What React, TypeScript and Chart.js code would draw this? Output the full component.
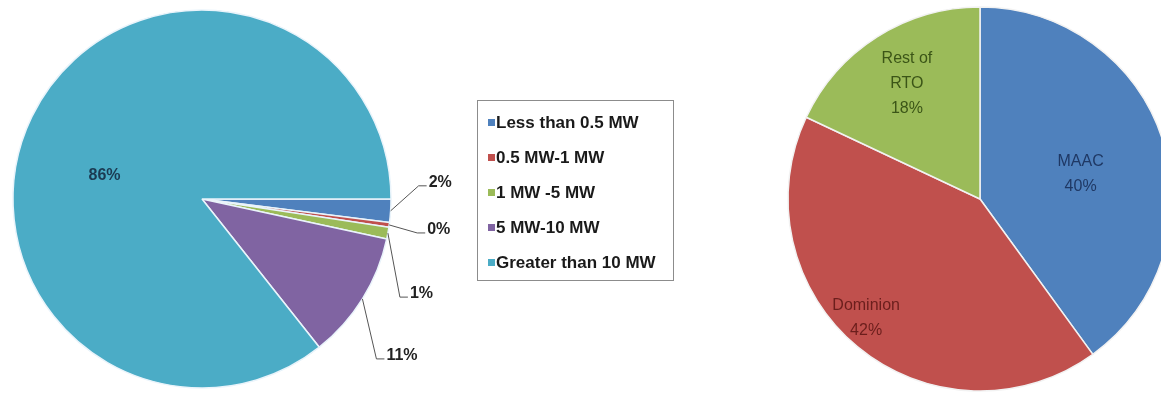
import React, { useEffect, useRef } from 'react';
import { Chart, registerables } from 'chart.js';

Chart.register(...registerables);

// ---- Data: left pie (by unit size) ----
const sizeCategories = ['Less than 0.5 MW', '0.5 MW-1 MW', '1 MW -5 MW', '5 MW-10 MW', 'Greater than 10 MW'];
const sizeShares = [2, 0.4, 1, 11, 86];
const sizeColors = ['#4f81bd', '#c0504d', '#9bbb59', '#8064a2', '#4bacc6'];

// ---- Data: right pie (by zone) ----
const zoneCategories = ['MAAC', 'Dominion', 'Rest of RTO'];
const zoneShares = [40, 42, 18];
const zoneColors = ['#4f81bd', '#c0504d', '#9bbb59'];
const zoneTextColors = ['#1f3864', '#6b1e1c', '#3b5517'];
const zoneNameLines = [['MAAC'], ['Dominion'], ['Rest of', 'RTO']];

// ---- Label layout (style only) ----
// inside labels: radius fraction and angle shift (deg); outside labels: elbow offset from arc edge
const sizeLabelLayout = [
  { inside: false, ex: 28, ey: -25 },
  { inside: false, ex: 28, ey: 8 },
  { inside: false, ex: 12, ey: 64 },
  { inside: false, ex: 14, ey: 60 },
  { inside: true, rf: 0.53, da: -12.5 },
];
const zoneLabelLayout = [
  { rf: 0.54, da: 4 },
  { rf: 0.86, da: 4 },
  { rf: 0.71, da: 0 },
];

const FONT = "'Liberation Sans', Arial, sans-serif";

const pct = (arr: number[], i: number) => {
  const total = arr.reduce((a, b) => a + b, 0);
  return Math.round((arr[i] / total) * 100) + '%';
};

const leftPlugin = {
  id: 'leftLabels',
  afterDraw(chart: any) {
    const ctx = chart.ctx as CanvasRenderingContext2D;
    const meta = chart.getDatasetMeta(0);
    ctx.save();
    meta.data.forEach((arc: any, i: number) => {
      const { x, y, startAngle, endAngle, outerRadius } = arc.getProps(['x', 'y', 'startAngle', 'endAngle', 'outerRadius'], true);
      const mid = (startAngle + endAngle) / 2;
      const lay: any = sizeLabelLayout[i];
      const text = pct(sizeShares, i);
      if (lay.inside) {
        const a = mid + (lay.da * Math.PI) / 180;
        const r = outerRadius * lay.rf;
        ctx.font = `bold 16px ${FONT}`;
        ctx.fillStyle = '#1b3a52';
        ctx.textAlign = 'center';
        ctx.textBaseline = 'middle';
        ctx.fillText(text, x + r * Math.cos(a), y + r * Math.sin(a));
      } else {
        const sx = x + outerRadius * Math.cos(mid);
        const sy = y + outerRadius * Math.sin(mid);
        const exx = sx + lay.ex;
        const eyy = sy + lay.ey;
        ctx.strokeStyle = '#555555';
        ctx.lineWidth = 1;
        ctx.beginPath();
        ctx.moveTo(sx, sy);
        ctx.lineTo(exx, eyy);
        ctx.lineTo(exx + 8, eyy);
        ctx.stroke();
        ctx.font = `bold 16px ${FONT}`;
        ctx.fillStyle = '#222222';
        ctx.textAlign = 'left';
        ctx.textBaseline = 'alphabetic';
        ctx.fillText(text, exx + 10, eyy + 1);
      }
    });

    // Legend box
    const bx = 477, by = 100, bw = 196, bh = 180;
    ctx.strokeStyle = '#8c8c8c';
    ctx.lineWidth = 1;
    ctx.strokeRect(bx + 0.5, by + 0.5, bw, bh);
    ctx.font = `bold 17px ${FONT}`;
    ctx.textAlign = 'left';
    ctx.textBaseline = 'middle';
    sizeCategories.forEach((name, i) => {
      const cy = by + 22 + i * 35;
      ctx.fillStyle = sizeColors[i];
      ctx.fillRect(bx + 11, cy - 3, 7, 7);
      ctx.fillStyle = '#1a1a1a';
      ctx.fillText(name, bx + 19, cy + 1);
    });
    ctx.restore();
  },
};

const rightPlugin = {
  id: 'rightLabels',
  afterDraw(chart: any) {
    const ctx = chart.ctx as CanvasRenderingContext2D;
    const meta = chart.getDatasetMeta(0);
    ctx.save();
    ctx.font = `16px ${FONT}`;
    ctx.textAlign = 'center';
    ctx.textBaseline = 'middle';
    meta.data.forEach((arc: any, i: number) => {
      const { x, y, startAngle, endAngle, outerRadius } = arc.getProps(['x', 'y', 'startAngle', 'endAngle', 'outerRadius'], true);
      const lay = zoneLabelLayout[i];
      const a = (startAngle + endAngle) / 2 + (lay.da * Math.PI) / 180;
      const r = outerRadius * lay.rf;
      const lines = [...zoneNameLines[i], pct(zoneShares, i)];
      const lh = 25;
      const cx = x + r * Math.cos(a);
      const cy = y + r * Math.sin(a);
      ctx.fillStyle = zoneTextColors[i];
      lines.forEach((ln, k) => {
        ctx.fillText(ln, cx, cy + (k - (lines.length - 1) / 2) * lh);
      });
    });
    ctx.restore();
  },
};

export default function App() {
  const leftRef = useRef<HTMLCanvasElement>(null);
  const rightRef = useRef<HTMLCanvasElement>(null);

  useEffect(() => {
    const left = new Chart(leftRef.current as HTMLCanvasElement, {
      type: 'pie',
      data: {
        labels: sizeCategories,
        datasets: [
          {
            data: sizeShares,
            backgroundColor: sizeColors,
            borderColor: '#eaf4fb',
            borderWidth: 1.5,
          },
        ],
      },
      options: {
        responsive: false,
        animation: false,
        devicePixelRatio: 1,
        rotation: 90,
        radius: 189,
        layout: { padding: { left: 13, right: 309, top: 10, bottom: 10 } },
        plugins: { legend: { display: false }, tooltip: { enabled: false } },
      },
      plugins: [leftPlugin],
    } as any);

    const right = new Chart(rightRef.current as HTMLCanvasElement, {
      type: 'pie',
      data: {
        labels: zoneCategories,
        datasets: [
          {
            data: zoneShares,
            backgroundColor: zoneColors,
            borderColor: '#f2f2f2',
            borderWidth: 1.5,
          },
        ],
      },
      options: {
        responsive: false,
        animation: false,
        devicePixelRatio: 1,
        rotation: 0,
        radius: 192,
        layout: { padding: { left: 0, right: 20, top: 0, bottom: 0 } },
        plugins: { legend: { display: false }, tooltip: { enabled: false } },
      },
      plugins: [rightPlugin],
    } as any);

    return () => {
      left.destroy();
      right.destroy();
    };
  }, []);

  return (
    <div
      style={{
        position: 'fixed',
        left: 0,
        top: 0,
        width: 1161,
        height: 398,
        overflow: 'hidden',
        background: '#ffffff',
      }}
    >
      <canvas ref={leftRef} width={700} height={398} style={{ position: 'absolute', left: 0, top: 0 }} />
      <canvas ref={rightRef} width={420} height={398} style={{ position: 'absolute', left: 780, top: 0 }} />
    </div>
  );
}
